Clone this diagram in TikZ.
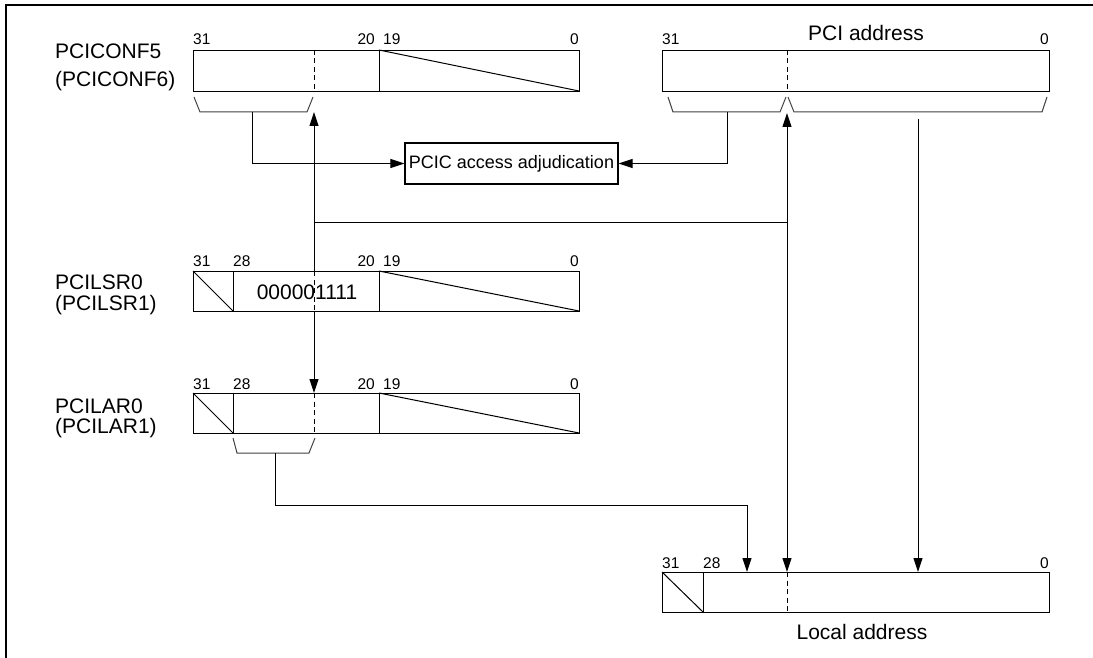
\documentclass[tikz,border=0pt]{standalone}
\usepackage{fontspec}
\setmainfont{Liberation Sans}
\usetikzlibrary{arrows.meta}
\begin{document}
\begin{tikzpicture}[x=1pt,y=-1pt,
  regbox/.style={draw, line width=1.3pt, inner sep=0pt, minimum width=386pt, minimum height=41pt, anchor=north west},
  lbl/.style={font=\fontsize{21}{25}\selectfont, inner sep=0pt},
  bit/.style={font=\fontsize{15.5}{18}\selectfont, inner sep=0pt},
  conn/.style={line width=1pt},
  arr/.style={-{Triangle[length=14pt,width=9pt]}},
  arrboth/.style={{Triangle[length=14pt,width=9pt]}-{Triangle[length=14pt,width=9pt]}},
  bracel/.style={line width=1pt, black!75},
  divl/.style={line width=1pt},
  dsh/.style={line width=0.9pt, dash pattern=on 5pt off 3.5pt}
]
\useasboundingbox (0,0) rectangle (1093,658);
% frame
\draw[line width=2.5pt] (6,658) -- (6,5) -- (1093,5);

% ---------- PCICONF5 ----------
\node[lbl, anchor=base west] (n5) at (55,59) {PCICONF5};
\node[lbl, anchor=base west] (n6) at (55,87) {(PCICONF6)};
\node[regbox] (conf) at (193,50) {};
\draw[divl] (379,50) -- (379,91);
\draw[divl] (379,50) -- (579,91);
\draw[dsh] (314,50) -- (314,91);
\node[bit, anchor=base west] (c31) at (193,45) {31};
\node[bit, anchor=base east] (c20) at (375,45) {20};
\node[bit, anchor=base west] (c19) at (383,45) {19};
\node[bit, anchor=base east] (c0) at (579,45) {0};
\draw[bracel] (194,97) -- (200,112) -- (307,112) -- (313,97);

% ---------- PCI address ----------
\node[regbox, minimum width=387pt] (pci) at (662,50) {};
\draw[dsh] (787,50) -- (787,91);
\node[bit, anchor=base west] (p31) at (662,45) {31};
\node[bit, anchor=base east] (p0) at (1049,45) {0};
\node[lbl, anchor=base] (pcil) at (866,41) {PCI address};
\draw[bracel] (668,97) -- (673,112) -- (780,112) -- (786,97);
\draw[bracel] (788,97) -- (794,112) -- (1042,112) -- (1047,97);

% ---------- adjudication ----------
\node[draw, line width=1.2pt, inner sep=0pt, minimum width=213pt, minimum height=41pt,
      font=\fontsize{18}{21}\selectfont] (adj) at (511.5,163.5) {PCIC access adjudication};

% ---------- PCILSR0 ----------
\node[lbl, anchor=base west] (s0) at (55,289) {PCILSR0};
\node[lbl, anchor=base west] (s1) at (55,310) {(PCILSR1)};
\node[regbox, minimum height=40pt] (lsr) at (193,271) {};
\draw[divl] (233,271) -- (233,311);
\draw[divl] (379,271) -- (379,311);
\draw[divl] (193,271) -- (233,311);
\draw[divl] (379,271) -- (579,311);
\node[lbl, anchor=base] (val) at (307,299) {000001111};
\node[bit, anchor=base west] (s31) at (193,266) {31};
\node[bit, anchor=base west] (s28) at (233,266) {28};
\node[bit, anchor=base east] (s20) at (375,266) {20};
\node[bit, anchor=base west] (s19) at (383,266) {19};
\node[bit, anchor=base east] (s0b) at (579,266) {0};

% ---------- PCILAR0 ----------
\node[lbl, anchor=base west] (a0) at (55,413) {PCILAR0};
\node[lbl, anchor=base west] (a1) at (55,433) {(PCILAR1)};
\node[regbox, minimum height=40pt] (lar) at (193,393) {};
\draw[divl] (233,393) -- (233,433);
\draw[divl] (379,393) -- (379,433);
\draw[divl] (193,393) -- (233,433);
\draw[divl] (379,393) -- (579,433);
\draw[dsh] (314,393) -- (314,433);
\node[bit, anchor=base west] (a31) at (193,389) {31};
\node[bit, anchor=base west] (a28) at (233,389) {28};
\node[bit, anchor=base east] (a20) at (375,389) {20};
\node[bit, anchor=base west] (a19) at (383,389) {19};
\node[bit, anchor=base east] (a0b) at (579,389) {0};
\draw[bracel] (233,438) -- (237,453) -- (309,453) -- (315,438);

% ---------- Local address ----------
\node[regbox, minimum width=387pt, minimum height=40pt] (loc) at (662,572) {};
\draw[divl] (703,572) -- (703,612);
\draw[divl] (662,572) -- (703,612);
\draw[dsh] (787,572) -- (787,612);
\node[bit, anchor=base west] (l31) at (662,568) {31};
\node[bit, anchor=base west] (l28) at (703,568) {28};
\node[bit, anchor=base east] (l0) at (1049,568) {0};
\node[lbl, anchor=base] (locl) at (862,639) {Local address};

% ---------- connectors ----------
\coordinate (cb) at (252,112);
\coordinate (pb) at (727,112);
\coordinate (v1top) at (314,112);
\coordinate (v2top) at (787,113);
\coordinate (v3) at (918,119);
\coordinate (j1) at (314,222);
\coordinate (j2) at (787,222);
\coordinate (lb) at (275,453);
\coordinate (lt) at (747,505);

\draw[conn,arr] (cb) |- (adj.west);
\draw[conn,arr] (pb) |- (adj.east);
\draw[conn,arr] (lsr.north -| v1top) -- (v1top);
\draw[dsh] (lsr.north -| v1top) -- (lsr.south -| v1top);
\draw[conn,arr] (lsr.south -| v1top) -- (lar.north -| v1top);
\draw[conn] (j1) -- (j2);
\draw[conn,arrboth] (v2top) -- (loc.north -| v2top);
\draw[conn,arr] (v3) -- (loc.north -| v3);
\draw[conn,arr] (lb) |- (lt) -- (loc.north -| lt);
\end{tikzpicture}
\end{document}
